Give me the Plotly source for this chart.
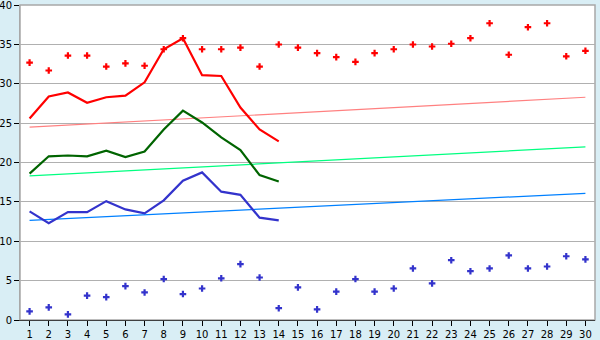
import plotly.graph_objects as go

days = list(range(1, 31))
red_points = [32.7, 31.7, 33.6, 33.6, 32.2, 32.6, 32.3, 34.4, 35.8, 34.4,
              34.4, 34.6, 32.2, 35.0, 34.6, 33.9, 33.4, 32.8, 33.9, 34.4,
              35.0, 34.75, 35.1, 35.8, 37.7, 33.7, 37.2, 37.7, 33.5, 34.2]
blue_points = [1.1, 1.6, 0.72, 3.1, 2.9, 4.3, 3.5, 5.2, 3.3, 4.0,
               5.3, 7.1, 5.4, 1.5, 4.15, 1.35, 3.6, 5.2, 3.6, 4.0,
               6.55, 4.65, 7.6, 6.2, 6.55, 8.2, 6.55, 6.8, 8.1, 7.7]
line_days = list(range(1, 15))
red_line = [25.6, 28.4, 28.9, 27.6, 28.3, 28.5, 30.2, 34.4, 35.8, 31.1, 31.0, 27.0, 24.2, 22.7]
green_line = [18.6, 20.8, 20.9, 20.8, 21.5, 20.7, 21.4, 24.2, 26.6, 25.1, 23.2, 21.6, 18.4, 17.6]
blue_line = [13.8, 12.3, 13.7, 13.7, 15.1, 14.05, 13.55, 15.2, 17.7, 18.75, 16.3, 15.9, 13.0, 12.65]
trend_x = [1, 30]
red_trend = [24.5, 28.3]
green_trend = [18.3, 22.0]
blue_trend = [12.65, 16.1]
y_ticks = [0, 5, 10, 15, 20, 25, 30, 35, 40]

fig = go.Figure()
fig.add_trace(go.Scatter(x=trend_x, y=red_trend, mode="lines", line=dict(color="#FF8080", width=1.2)))
fig.add_trace(go.Scatter(x=trend_x, y=green_trend, mode="lines", line=dict(color="#00FF80", width=1.2)))
fig.add_trace(go.Scatter(x=trend_x, y=blue_trend, mode="lines", line=dict(color="#0080FF", width=1.2)))
fig.add_trace(go.Scatter(x=line_days, y=red_line, mode="lines", line=dict(color="#FF0000", width=2.2)))
fig.add_trace(go.Scatter(x=line_days, y=green_line, mode="lines", line=dict(color="#006400", width=2.2)))
fig.add_trace(go.Scatter(x=line_days, y=blue_line, mode="lines", line=dict(color="#3333CC", width=2.2)))
fig.add_trace(go.Scatter(x=days, y=red_points, mode="markers",
                         marker=dict(symbol="cross", size=5.5, color="#FF0000", line=dict(width=0))))
fig.add_trace(go.Scatter(x=days, y=blue_points, mode="markers",
                         marker=dict(symbol="cross", size=5.5, color="#3333CC", line=dict(width=0))))

fig.update_layout(
    width=600, height=340,
    margin=dict(l=20, r=5, t=5, b=20, autoexpand=False),
    paper_bgcolor="#D9EEF5", plot_bgcolor="#FFFFFF",
    showlegend=False,
    font=dict(family="DejaVu Sans", size=10, color="#000000"),
    shapes=[dict(type="rect", xref="paper", yref="paper", x0=0, x1=1, y0=0, y1=1,
                 line=dict(color="#A8A8A8", width=1.5), layer="below")],
)
fig.update_xaxes(range=[0.5, 30.5], tickmode="array", tickvals=days,
                 ticks="outside", ticklen=5, tickcolor="#000000", automargin=False,
                 ticklabelstandoff=0,
                 showgrid=False, zeroline=False, showline=True, linecolor="#404040", linewidth=1)
fig.update_yaxes(range=[0, 40.02], tickmode="array", tickvals=y_ticks,
                 ticks="outside", ticklen=5, tickcolor="#000000", automargin=False,
                 ticklabeloverflow="allow",
                 showgrid=True, gridcolor="#B0B0B0", gridwidth=1, zeroline=False,
                 showline=True, linecolor="#A8A8A8", linewidth=1)

fig.write_html("out.html")
